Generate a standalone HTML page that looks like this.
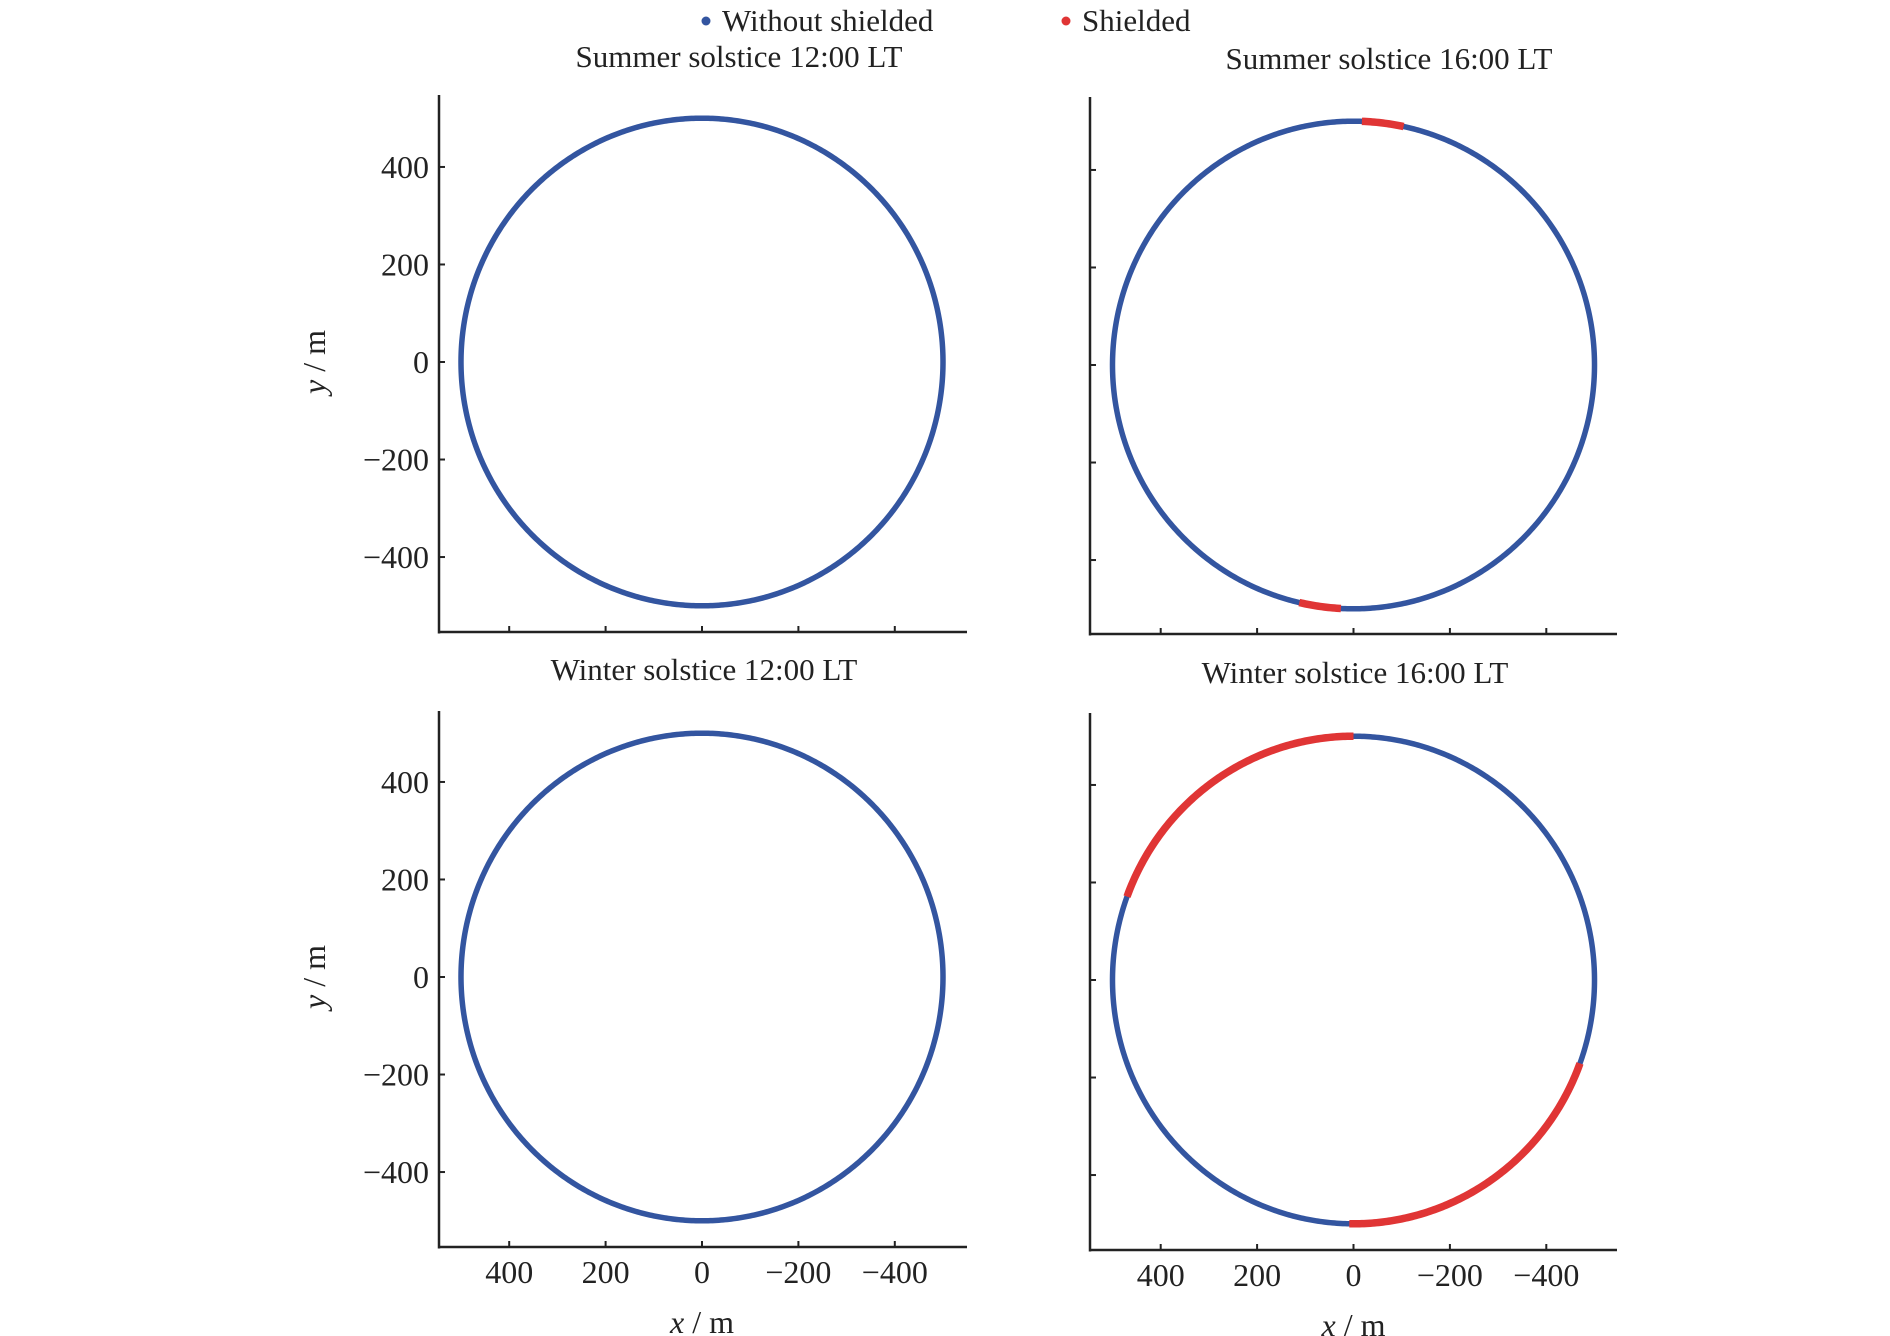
<!DOCTYPE html>
<html><head><meta charset="utf-8"><style>
body{margin:0;background:#fff;}
svg{display:block;font-family:"Liberation Serif",serif;}
</style></head><body>
<svg id="chart" width="1890" height="1336" viewBox="0 0 1890 1336">
<g>
<circle cx="706" cy="21" r="4.5" fill="#3355a0"/>
<text x="722" y="31" font-size="31" fill="#222">Without shielded</text>
<circle cx="1066" cy="21" r="4.5" fill="#e03535"/>
<text x="1082" y="31" font-size="31" fill="#222">Shielded</text>
</g>
</svg>
<script>
const panelTitles=["Summer solstice 12:00 LT","Summer solstice 16:00 LT","Winter solstice 12:00 LT","Winter solstice 16:00 LT"];
const orbitRadius=[500,500,500,500];
// shielded arcs as [startDeg,endDeg] in data angle (x=r cos, y=r sin)
const shielded0=[];
const shielded1=[[92,102],[273,283]];
const shielded2=[];
const shielded3=[[20,90],[200,271]];
const xTicks=[400,200,0,-200,-400];
const yTicks=[400,200,0,-200,-400];
const shieldedArcs=[shielded0,shielded1,shielded2,shielded3];

const NS="http://www.w3.org/2000/svg";
const svg=document.getElementById('chart');
const panels=[
 {ax:439,top:95,bot:632,right:967,x0:702,y0:362,tx:739,ty:67,xl:false,yl:true},
 {ax:1090,top:97,bot:634,right:1617,x0:1353.5,y0:365,tx:1389,ty:69,xl:false,yl:false},
 {ax:439,top:711,bot:1247,right:967,x0:702,y0:977,tx:704,ty:680,xl:true,yl:true},
 {ax:1090,top:713,bot:1250,right:1617,x0:1353.5,y0:980,tx:1355,ty:683,xl:true,yl:false}
];
const kx=0.482, ky=0.4876;
function mk(tag,attrs,parent){const e=document.createElementNS(NS,tag);for(const k in attrs)e.setAttribute(k,attrs[k]);parent.appendChild(e);return e;}
function arcPath(p,r,a0,a1){
 const sx=v=>p.x0-v*kx, sy=v=>p.y0-v*ky;
 let d="";
 for(let a=a0;a<=a1+1e-9;a+=0.5){const t=a*Math.PI/180;d+=(d?"L":"M")+sx(r*Math.cos(t)).toFixed(2)+","+sy(r*Math.sin(t)).toFixed(2);}
 return d;
}
panels.forEach((p,i)=>{
 const g=mk('g',{},svg);
 
 
 const sx=v=>p.x0-v*kx, sy=v=>p.y0-v*ky;
 const t=mk('text',{x:p.tx,y:p.ty,'font-size':31,'text-anchor':'middle',fill:'#222'},g);
 t.textContent=panelTitles[i];
 
 
 const ya=mk('line',{x1:p.ax,y1:p.top,x2:p.ax,y2:p.bot+1.5,stroke:'#222','stroke-width':2.5},g);
 
 
 const xa=mk('line',{x1:p.ax-1,y1:p.bot,x2:p.right,y2:p.bot,stroke:'#222','stroke-width':2.5},g);
 
 
 yTicks.forEach(v=>{
  const tk=mk('line',{x1:p.ax,y1:sy(v),x2:p.ax+6,y2:sy(v),stroke:'#222','stroke-width':2},g);
  
  
  if(p.yl){const l=mk('text',{x:p.ax-10,y:sy(v)+11,'font-size':32,'text-anchor':'end',fill:'#222'},g);
   l.textContent=v<0?'\u2212'+(-v):String(v);
   
   }
 });
 xTicks.forEach(v=>{
  const tk=mk('line',{x1:sx(v),y1:p.bot,x2:sx(v),y2:p.bot-6,stroke:'#222','stroke-width':2},g);
  
  
  if(p.xl){const l=mk('text',{x:sx(v),y:p.bot+36,'font-size':32,'text-anchor':'middle',fill:'#222'},g);
   l.textContent=v<0?'\u2212'+(-v):String(v);
   
   }
 });
 if(p.xl){const l=mk('text',{x:p.x0,y:p.bot+86,'font-size':32,'text-anchor':'middle',fill:'#222'},g);
  l.innerHTML='<tspan font-style="italic">x</tspan> / m';
  
  }
 if(p.yl){const cx=315,cy=p.y0;const l=mk('text',{x:cx,y:cy+10,'font-size':32,'text-anchor':'middle',fill:'#222',transform:`rotate(-90 ${cx} ${cy})`},g);
  l.innerHTML='<tspan font-style="italic">y</tspan> / m';
  
  }
 const r=orbitRadius[i];
 const c=mk('path',{d:arcPath(p,r,0,360),fill:'none',stroke:'#3355a0','stroke-width':5.5},g);
 
 
 shieldedArcs[i].forEach(a=>{
  const s=mk('path',{d:arcPath(p,r,a[0],a[1]),fill:'none',stroke:'#e03535','stroke-width':7.5},g);
  
  
 });
});
</script>
</body></html>
